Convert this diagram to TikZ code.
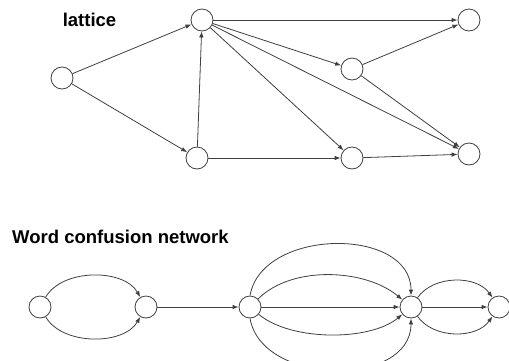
\documentclass[tikz,border=0pt]{standalone}
\usepackage{fontspec}
\setmainfont{Liberation Sans}
\usetikzlibrary{arrows.meta}
\begin{document}
\begin{tikzpicture}[x=1pt,y=-1pt,
  state/.style={circle,draw=black!75,fill=white,line width=0.8pt,minimum size=22pt,inner sep=0pt},
  link/.style={draw=black!75,line width=0.8pt,-{Latex[length=6pt,width=4.5pt]}},
  title/.style={font=\bfseries\fontsize{18.5}{20}\selectfont,inner sep=0pt}]
\useasboundingbox[fill=white] (0,0) rectangle (509,360);

% lattice
\node[title] (lt) at (89.5,20) {lattice};
\node[state] (a) at (62,78) {};
\node[state] (b) at (202,20) {};
\node[state] (c) at (197,158) {};
\node[state] (d) at (469,20) {};
\node[state] (e) at (352,69) {};
\node[state] (f) at (352,158) {};
\node[state] (g) at (469,154) {};

\draw[link] (a) -- (b);
\draw[link] (a) -- (c);
\draw[link] (c) -- (b);
\draw[link] (b) -- (d);
\draw[link] (b) -- (e);
\draw[link] (b) -- (f);
\draw[link] (b) -- (g);
\draw[link] (e) -- (d);
\draw[link] (e) -- (g);
\draw[link] (c) -- (f);
\draw[link] (f) -- (g);

% word confusion network
\node[title,anchor=west] (wt) at (12,237) {Word confusion network};
\node[state] (w1) at (40,307) {};
\node[state] (w2) at (146,307) {};
\node[state] (w3) at (250,307) {};
\node[state] (w4) at (411,307) {};
\node[state] (w5) at (499,307) {};

\draw[link] (w1) to[out=60,in=120,looseness=0.9] (w2);
\draw[link] (w1) to[out=-60,in=-120,looseness=0.9] (w2);
\draw[link] (w2) -- (w3);
\draw[link] (w3) -- (w4);
\draw[link] (w3.north) to[out=80,in=90,looseness=1.1] (w4.north);
\draw[link] (w3.south) to[out=-80,in=-90,looseness=1.1] (w4.south);
\draw[link] (w3) to[out=45,in=140,looseness=0.85] (w4);
\draw[link] (w3) to[out=-40,in=-140,looseness=0.75] (w4);
\draw[link] (w4) -- (w5);
\draw[link] (w4) to[out=55,in=125,looseness=0.95] (w5);
\draw[link] (w4) to[out=-55,in=-125,looseness=0.95] (w5);
\end{tikzpicture}
\end{document}
